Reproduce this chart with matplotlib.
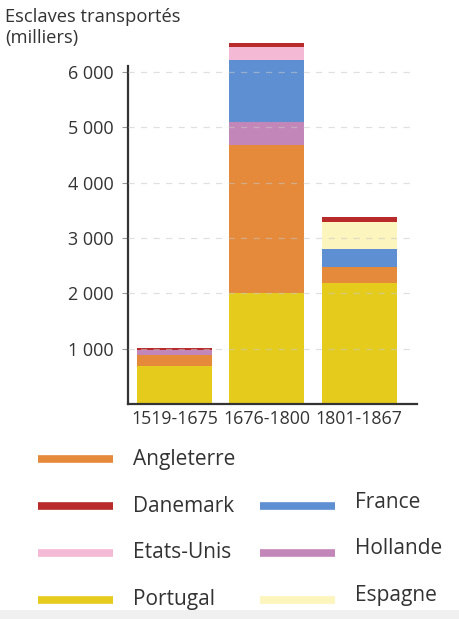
import matplotlib.pyplot as plt
from matplotlib.lines import Line2D
from matplotlib.patches import Rectangle

plt.rcParams['font.family'] = ['Open Sans', 'DejaVu Sans']

# Données (milliers d'esclaves transportés)
periodes = ['1519-1675', '1676-1800', '1801-1867']
portugal = [690, 2000, 2190]
angleterre = [200, 2680, 290]
hollande = [85, 420, 0]
france = [0, 1120, 325]
espagne = [0, 0, 490]
etats_unis = [0, 240, 0]
danemark = [30, 70, 90]

series = [
    ('Portugal', portugal, '#e5cc1c'),
    ('Angleterre', angleterre, '#e5893a'),
    ('Hollande', hollande, '#c386b9'),
    ('France', france, '#5d8fd2'),
    ('Espagne', espagne, '#fcf5bd'),
    ('Etats-Unis', etats_unis, '#f4b9d5'),
    ('Danemark', danemark, '#b92a2b'),
]
couleurs = {nom: c for nom, _, c in series}

W, H = 459, 619
fig = plt.figure(figsize=(W / 100, H / 100), dpi=100)
ax = fig.add_axes([128 / W, 1 - 404 / H, (417 - 128) / W, (404 - 39) / H])

x = [0, 1, 2]
bas = [0, 0, 0]
for nom, vals, c in series:
    ax.bar(x, vals, bottom=bas, width=0.815, color=c, zorder=2, linewidth=0)
    bas = [b + v for b, v in zip(bas, vals)]

ax.set_xlim(-0.51, 2.63)
ax.set_ylim(0, 6600)
ax.set_yticks([1000, 2000, 3000, 4000, 5000, 6000])
ax.set_yticklabels(['1 000', '2 000', '3 000', '4 000', '5 000', '6 000'])
ax.set_xticks(x)
ax.set_xticklabels(periodes)
for yv in [1000, 2000, 3000, 4000, 5000, 6000]:
    ax.plot([-0.51, 2.55], [yv, yv], ls=(0, (5, 5)), color='#c8c8c8',
            lw=0.9, alpha=0.55, zorder=3)

for s in ['top', 'right']:
    ax.spines[s].set_visible(False)
ax.spines['left'].set_bounds(0, 6110)
ax.spines['left'].set_linewidth(1.6)
ax.spines['bottom'].set_linewidth(1.6)
ax.spines['left'].set_color('#333333')
ax.spines['bottom'].set_color('#333333')
ax.tick_params(axis='y', length=4, width=0.8, color='#999999', pad=6,
               labelsize=13, labelcolor='#333333')
ax.tick_params(axis='x', length=0, pad=4, labelsize=12.8, labelcolor='#333333')

fig.text(5 / W, 1 - 8 / H, 'Esclaves transportés\n(milliers)', ha='left', va='top',
         fontsize=13.2, color='#333333', linespacing=1.2)

# Légende
legende = [
    ('Angleterre', 0, 0), ('Danemark', 1, 0), ('France', 1, 1),
    ('Etats-Unis', 2, 0), ('Hollande', 2, 1), ('Portugal', 3, 0), ('Espagne', 3, 1),
]
for nom, ligne, col in legende:
    yl = 459 + ligne * 47
    x0 = 38 + col * 222
    fig.add_artist(Line2D([x0 / W, (x0 + 75) / W], [1 - yl / H, 1 - yl / H],
                          color=couleurs[nom], lw=5.5, solid_capstyle='butt'))
    yt = yl - (4 if col == 1 else 0)
    fig.text((x0 + 95) / W, 1 - yt / H, nom, ha='left', va='center',
             fontsize=15, color='#333333')

fig.add_artist(Rectangle((0, 0), 1, 9 / H, transform=fig.transFigure,
                         color='#f0f0f0', lw=0))

fig.savefig('out.png', dpi=100)
